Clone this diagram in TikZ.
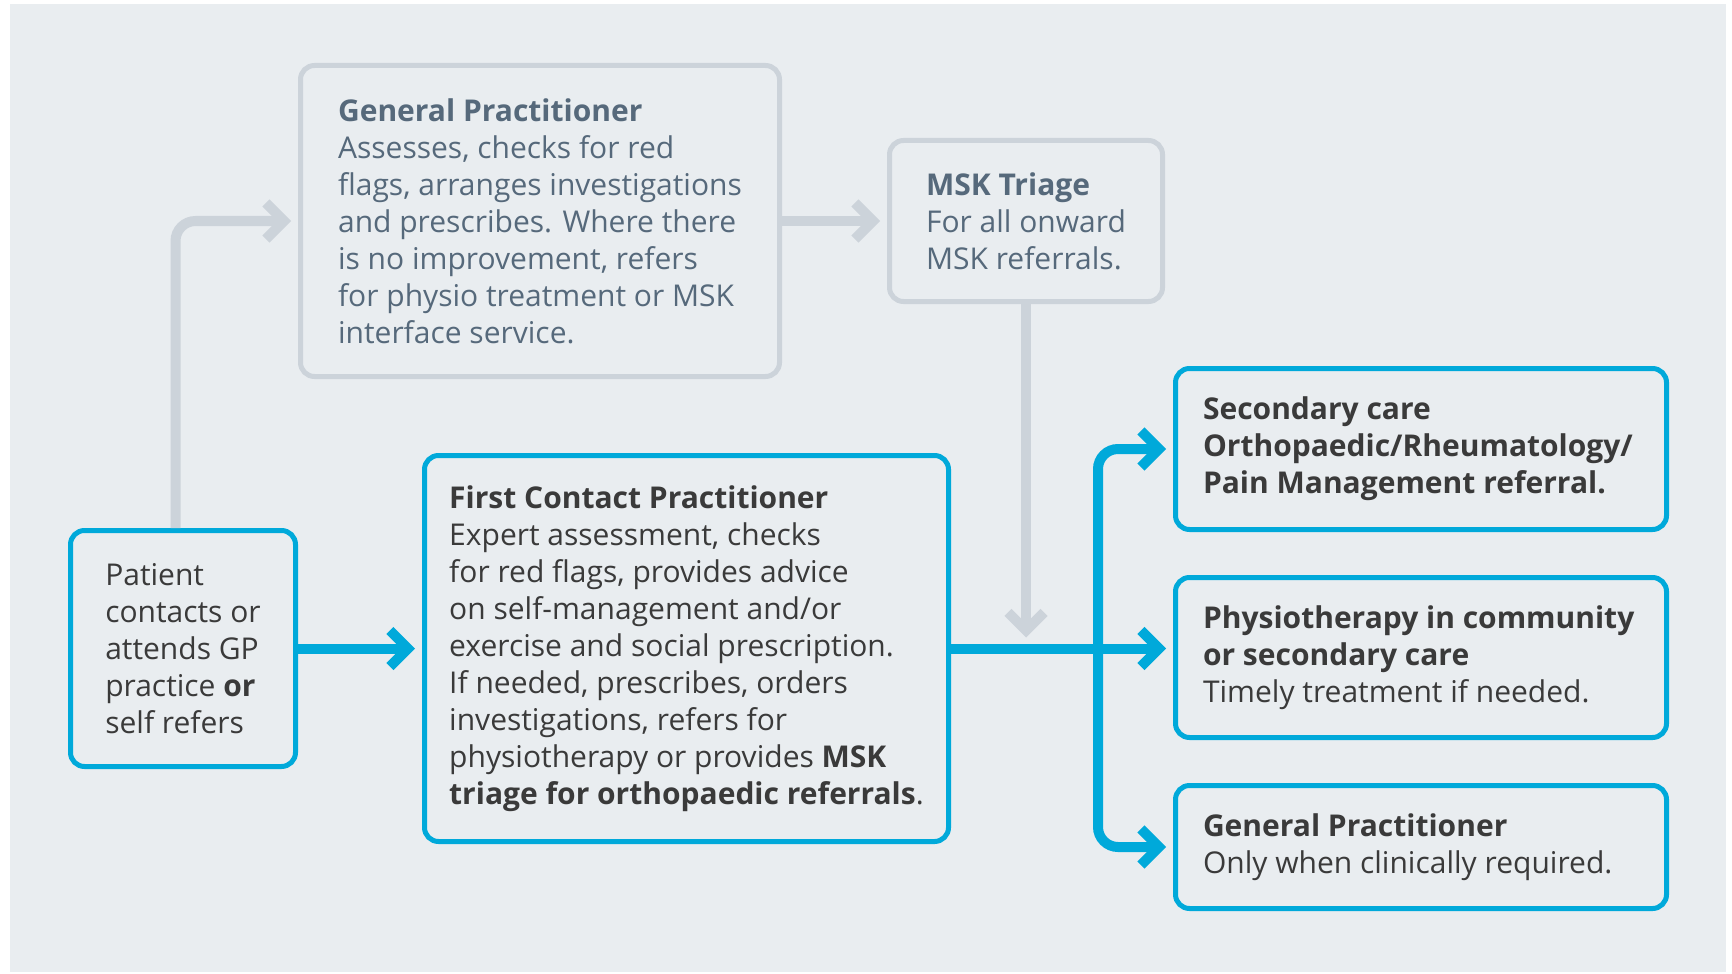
\documentclass[tikz,border=0pt]{standalone}
\usepackage{fontspec}
\setmainfont{Open Sans}
\usetikzlibrary{positioning}
\usetikzlibrary{arrows.meta}
\definecolor{panelbg}{HTML}{E9EDF0}
\definecolor{lgrey}{HTML}{CCD3DA}
\definecolor{greytext}{HTML}{56697B}
\definecolor{darktext}{HTML}{3A3A3A}
\definecolor{nhsblue}{HTML}{00A9DA}
\tikzstyle{greybox} = [draw=lgrey, line width=2.5pt, rounded corners=7pt, align=left, text=greytext, font=\fontsize{15}{18.5}\selectfont]
\tikzstyle{bluebox} = [draw=nhsblue, line width=2.5pt, rounded corners=7pt, align=left, text=darktext, font=\fontsize{15}{18.5}\selectfont]
\tikzstyle{outbox} = [bluebox, minimum width=245.5pt, text width=218pt, align=flush left]
\tikzstyle{garrow} = [draw=lgrey, line width=5pt, rounded corners=10pt, -{Straight Barb[length=9pt,width=18pt]}, shorten >=3.5pt]
\tikzstyle{barrow} = [draw=nhsblue, line width=5pt, rounded corners=10pt, -{Straight Barb[length=9pt,width=18pt]}, shorten >=3.5pt]

\begin{document}
\begin{tikzpicture}[x=0.5pt, y=-0.5pt, node distance=21.5pt]
    \useasboundingbox (0,0) rectangle (1732,973);
    \fill [panelbg] (10,4) rectangle (1726,972);

    \node [bluebox, minimum width=112.5pt, minimum height=118pt] (pat) at (183,648.5) {Patient\\contacts or\\attends GP\\practice \textbf{or}\\self refers};
    \node [greybox, minimum width=239.5pt, minimum height=155.5pt] (gp) at (540,221) {\textbf{General Practitioner}\\Assesses, checks for red\\flags, arranges investigations\\and prescribes. Where there\\is no improvement, refers\\for physio treatment or MSK\\interface service.};
    \node [greybox, minimum width=136.5pt, minimum height=80.5pt] (msk) at (1026,221) {\textbf{MSK Triage}\\For all onward\\MSK referrals.};
    \node [bluebox, minimum width=262pt, minimum height=193pt] (fcp) at (686.5,648.5) {\textbf{First Contact Practitioner}\\Expert assessment, checks\\for red flags, provides advice\\on self-management and/or\\exercise and social prescription.\\If needed, prescribes, orders\\investigations, refers for\\physiotherapy or provides \textbf{MSK}\\\textbf{triage for orthopaedic referrals}.};
    \node [outbox, minimum height=80.5pt] (sec) at (1421,449) {\textbf{Secondary care}\\\textbf{Orthopaedic/Rheumatology/}\\\textbf{Pain Management referral.}};
    \node [outbox, below=of sec, minimum height=80pt] (phy) {\textbf{Physiotherapy in community}\\\textbf{or secondary care}\\Timely treatment if needed.};
    \node [outbox, below=of phy, minimum height=61.5pt] (gpb) {\textbf{General Practitioner}\\Only when clinically required.};

    \draw [garrow] ([xshift=-3.75pt]pat.north) |- (gp.west);
    \draw [garrow] (gp.east) -- (msk.west);
    \draw [garrow, shorten >=5.5pt] (msk.south) -- (msk.south |- fcp.east);

    \coordinate (split) at ([xshift=73.5pt]fcp.east);
    \draw [barrow] (pat.east) -- (fcp.west);
    \draw [barrow] (fcp.east) -- (fcp.east -| phy.west);
    \draw [barrow] (split) |- (sec.west);
    \draw [barrow] (split) |- (gpb.west);
\end{tikzpicture}
\end{document}
